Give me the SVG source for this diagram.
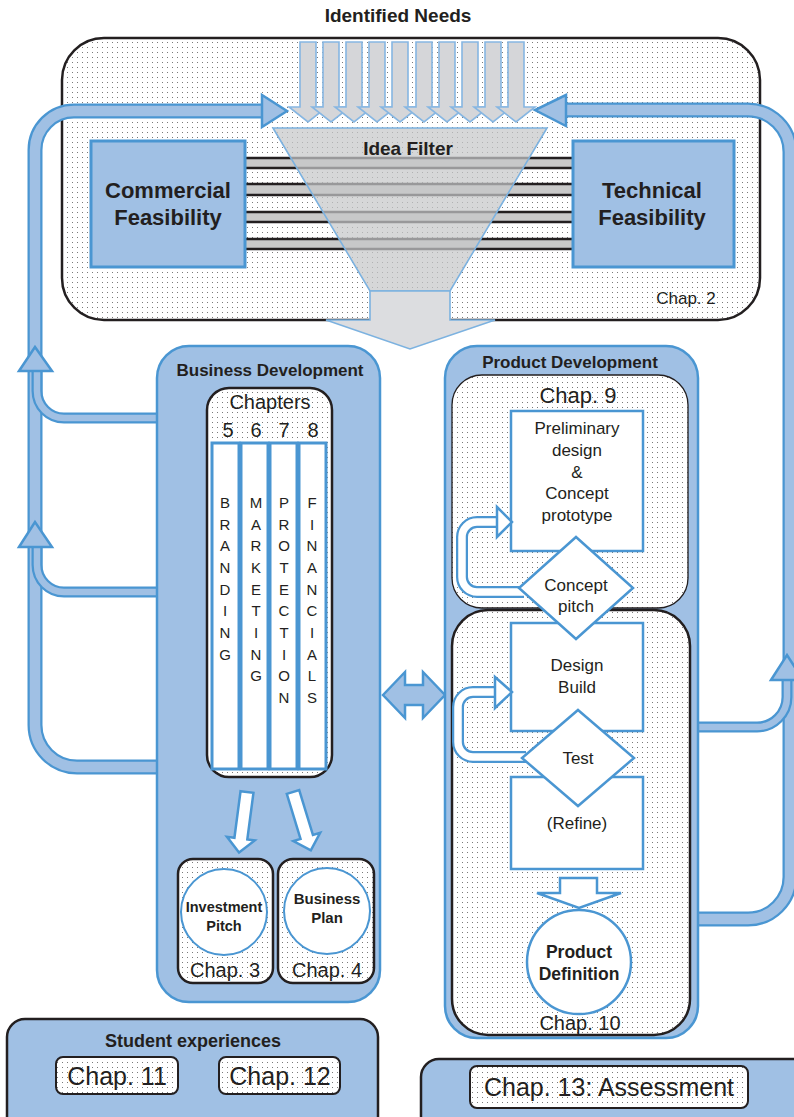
<svg xmlns="http://www.w3.org/2000/svg" xmlns:xlink="http://www.w3.org/1999/xlink" width="794" height="1117" viewBox="0 0 794 1117">
  <defs>
    <pattern id="dots" width="5" height="5" patternUnits="userSpaceOnUse">
      <rect width="5" height="5" fill="#fff"/>
      <rect x="2" y="2" width="1" height="1" fill="#7a7a7a"/>
    </pattern>
    <!-- one incoming need arrow, centred on x=0 -->
    <polygon id="needArrow" points="-8,42 8,42 8,107 19,107 0,122 -19,107 -8,107"/>
    <!-- feedback pipe centre-lines -->
    <path id="leftLoop" d="M 159 767 H 77 A 42 42 0 0 1 35 725 V 150 A 39 39 0 0 1 74 111 H 264"/>
    <path id="leftBranch1" d="M 159 418 H 64 A 27 27 0 0 1 37 391 V 369"/>
    <path id="leftBranch2" d="M 159 592 H 64 A 27 27 0 0 1 37 565 V 545"/>
    <path id="rightLoop" d="M 696 919 H 748 A 42 42 0 0 0 790 877 V 152 A 42 42 0 0 0 748 110 H 564"/>
    <path id="rightBranch" d="M 696 727 H 757 A 30 30 0 0 0 787 697 V 678"/>
    <path id="loop9" d="M 524 592 H 477 A 15 15 0 0 1 462 577 V 537 A 15 15 0 0 1 477 522 H 498"/>
    <path id="loop10" d="M 526 757 H 473 A 15 15 0 0 1 458 742 V 707 A 15 15 0 0 1 473 692 H 496"/>
  </defs>
  <style>
    .t { font-family: "Liberation Sans", Arial, Helvetica, sans-serif; fill: #231f20; text-anchor: middle; }
    .b { font-weight: bold; }
    .panel { fill: #a0c0e4; stroke: #4a96d2; stroke-width: 2.5; }
    .dark { fill: #a0c0e4; stroke: #231f20; stroke-width: 2.5; }
    .dotted { fill: url(#dots); stroke: #231f20; stroke-width: 2.5; }
    .wbox { fill: #fff; stroke: #4a96d2; stroke-width: 2.5; }
    .feas { fill: #a0c0e4; stroke: #4a96d2; stroke-width: 3; }
    .pipeO { fill: none; stroke: #4a96d2; stroke-width: 15; }
    .pipeI { fill: none; stroke: #a0c0e4; stroke-width: 10.5; }
    .brO { fill: none; stroke: #4a96d2; stroke-width: 11; }
    .brI { fill: none; stroke: #a0c0e4; stroke-width: 6.5; }
    .wO { fill: none; stroke: #4a96d2; stroke-width: 12; }
    .wI { fill: none; stroke: #fff; stroke-width: 7.5; }
    .head { fill: #a0c0e4; stroke: #4a96d2; stroke-width: 2.5; stroke-linejoin: miter; }
    .whead { fill: #fff; stroke: #4a96d2; stroke-width: 2.5; }
    .need { fill: #d5d6d9; stroke: #86b6e2; stroke-width: 1.6; }
    .band { fill: #c9c9c9; }
    .bline { stroke: #231f20; stroke-width: 2.5; }
    .col { fill: #fff; stroke: #4a96d2; stroke-width: 3; }
  </style>

  <!-- Idea generation: needs, filter and feasibility checks -->
  <g id="idea-stage">
    <text class="t b" x="398" y="22" font-size="19">Identified Needs</text>
    <rect class="dotted" x="62" y="38" width="698" height="282" rx="42"/>
    <g id="feasibility-bands">
      <rect class="band" x="245" y="158" width="328" height="10"/>
      <rect class="band" x="245" y="184" width="328" height="11"/>
      <rect class="band" x="245" y="212" width="328" height="10"/>
      <rect class="band" x="245" y="239" width="328" height="10"/>
      <path class="bline" d="M245 158H573M245 168H573M245 184H573M245 195H573M245 212H573M245 222H573M245 239H573M245 249H573"/>
    </g>
    <g id="idea-filter">
      <polygon points="273,128 547,128 450,291 370,291" fill="#c6c7c9" fill-opacity="0.72" stroke="#7cb2e0" stroke-width="1.6"/>
      <text class="t b" x="408" y="155" font-size="19">Idea Filter</text>
      <polygon points="370,291 450,291 450,320 495,320 410,349 326,320 370,320" fill="#dcdde0" stroke="#7cb2e0" stroke-width="1.6"/>
    </g>
    <g id="needs">
      <use xlink:href="#needArrow" class="need" x="308"/>
      <use xlink:href="#needArrow" class="need" x="331"/>
      <use xlink:href="#needArrow" class="need" x="354"/>
      <use xlink:href="#needArrow" class="need" x="377"/>
      <use xlink:href="#needArrow" class="need" x="400"/>
      <use xlink:href="#needArrow" class="need" x="424"/>
      <use xlink:href="#needArrow" class="need" x="447"/>
      <use xlink:href="#needArrow" class="need" x="470"/>
      <use xlink:href="#needArrow" class="need" x="493"/>
      <use xlink:href="#needArrow" class="need" x="516"/>
    </g>
    <g id="commercial">
      <rect class="feas" x="91" y="141" width="154" height="126"/>
      <text class="t b" x="168" y="198" font-size="22">Commercial</text>
      <text class="t b" x="168" y="225" font-size="22">Feasibility</text>
    </g>
    <g id="technical">
      <rect class="feas" x="573" y="141" width="161" height="126"/>
      <text class="t b" x="652" y="198" font-size="22">Technical</text>
      <text class="t b" x="652" y="225" font-size="22">Feasibility</text>
    </g>
    <text class="t" x="686" y="304" font-size="17" fill="#333">Chap. 2</text>
  </g>

  <!-- Feedback pipes back into the idea filter -->
  <g id="connectors">
    <use xlink:href="#leftLoop" class="pipeO"/>
    <use xlink:href="#leftLoop" class="pipeI"/>
    <polygon class="head" points="262,95 287,111 262,127"/>
    <use xlink:href="#leftBranch1" class="brO"/>
    <use xlink:href="#leftBranch1" class="brI"/>
    <polygon class="head" points="19,371 35,347 52,371"/>
    <use xlink:href="#leftBranch2" class="brO"/>
    <use xlink:href="#leftBranch2" class="brI"/>
    <polygon class="head" points="19,547 35,522 52,547"/>

    <use xlink:href="#rightLoop" class="pipeO"/>
    <use xlink:href="#rightLoop" class="pipeI"/>
    <polygon class="head" points="566,95 535,110 566,126"/>
    <use xlink:href="#rightBranch" class="brO"/>
    <use xlink:href="#rightBranch" class="brI"/>
    <polygon class="head" points="771,680 787,655 803,680"/>

    <polygon class="head" points="383,695 405,672 405,685 423,685 423,672 445,695 423,718 423,705 405,705 405,718"/>
  </g>

  <!-- Business development -->
  <g id="business-development">
    <rect class="panel" x="157" y="346" width="223" height="656" rx="32"/>
    <text class="t b" x="270" y="376" font-size="17">Business Development</text>
    <g id="chapters">
      <rect class="dotted" x="207" y="388" width="125" height="389" rx="22"/>
      <text class="t" x="270" y="409" font-size="20">Chapters</text>
      <text class="t" x="228" y="437" font-size="20">5</text>
      <text class="t" x="256" y="437" font-size="20">6</text>
      <text class="t" x="284" y="437" font-size="20">7</text>
      <text class="t" x="313" y="437" font-size="20">8</text>
      <rect class="col" x="212" y="443" width="27" height="326"/>
      <rect class="col" x="241" y="443" width="27" height="326"/>
      <rect class="col" x="270" y="443" width="27" height="326"/>
      <rect class="col" x="299" y="443" width="27" height="326"/>
      <g class="t" font-size="15">
        <text x="225" y="508">B</text><text x="225" y="530">R</text><text x="225" y="551">A</text><text x="225" y="573">N</text><text x="225" y="595">D</text><text x="225" y="616">I</text><text x="225" y="638">N</text><text x="225" y="660">G</text>
        <text x="256" y="508">M</text><text x="256" y="530">A</text><text x="256" y="551">R</text><text x="256" y="573">K</text><text x="256" y="595">E</text><text x="256" y="616">T</text><text x="256" y="638">I</text><text x="256" y="660">N</text><text x="256" y="681">G</text>
        <text x="284" y="508">P</text><text x="284" y="530">R</text><text x="284" y="551">O</text><text x="284" y="573">T</text><text x="284" y="595">E</text><text x="284" y="616">C</text><text x="284" y="638">T</text><text x="284" y="660">I</text><text x="284" y="681">O</text><text x="284" y="703">N</text>
        <text x="312" y="508">F</text><text x="312" y="530">I</text><text x="312" y="551">N</text><text x="312" y="573">A</text><text x="312" y="595">N</text><text x="312" y="616">C</text><text x="312" y="638">I</text><text x="312" y="660">A</text><text x="312" y="681">L</text><text x="312" y="703">S</text>
      </g>
    </g>
    <polygon class="whead" transform="translate(247,792) rotate(7.5)" points="-6.5,0 6.5,0 6.5,47 14,47 0,61 -14,47 -6.5,47"/>
    <polygon class="whead" transform="translate(293,792) rotate(-17)" points="-6.5,0 6.5,0 6.5,47 14,47 0,61 -14,47 -6.5,47"/>
    <g id="investment-pitch">
      <rect class="dotted" x="178" y="859" width="95" height="124" rx="15"/>
      <circle cx="224" cy="912" r="43" fill="#fff" stroke="#4a96d2" stroke-width="2"/>
      <text class="t b" x="224" y="912" font-size="14.5">Investment</text>
      <text class="t b" x="224" y="931" font-size="14.5">Pitch</text>
      <text class="t" x="225" y="977" font-size="20">Chap. 3</text>
    </g>
    <g id="business-plan">
      <rect class="dotted" x="278" y="859" width="96" height="124" rx="15"/>
      <circle cx="327" cy="911" r="43" fill="#fff" stroke="#4a96d2" stroke-width="2"/>
      <text class="t b" x="327" y="904" font-size="15">Business</text>
      <text class="t b" x="327" y="923" font-size="15">Plan</text>
      <text class="t" x="327" y="977" font-size="20">Chap. 4</text>
    </g>
  </g>

  <!-- Product development -->
  <g id="product-development">
    <rect class="panel" x="445" y="346" width="253" height="692" rx="32"/>
    <text class="t b" x="570" y="368" font-size="17">Product Development</text>
    <rect x="452" y="375" width="236" height="233" rx="30" fill="url(#dots)" stroke="#231f20" stroke-width="1.3"/>
    <text class="t" x="578" y="403" font-size="22">Chap. 9</text>
    <rect class="dotted" x="452" y="610" width="238" height="425" rx="36"/>
    <text class="t" x="580" y="1030" font-size="20">Chap. 10</text>

    <g id="concept-loop">
      <rect class="wbox" x="511" y="411" width="132" height="140"/>
      <g class="t" font-size="17">
        <text x="577" y="434">Preliminary</text>
        <text x="577" y="456">design</text>
        <text x="577" y="478">&amp;</text>
        <text x="577" y="499">Concept</text>
        <text x="577" y="521">prototype</text>
      </g>
      <use xlink:href="#loop9" class="wO"/>
      <use xlink:href="#loop9" class="wI"/>
      <polygon class="whead" points="497,507 512,522 497,537"/>
    </g>

    <g id="build-loop">
      <rect class="wbox" x="511" y="623" width="132" height="108"/>
      <text class="t" x="577" y="671" font-size="17">Design</text>
      <text class="t" x="577" y="693" font-size="17">Build</text>
      <rect class="wbox" x="511" y="777" width="132" height="92"/>
      <text class="t" x="577" y="829" font-size="17">(Refine)</text>
      <use xlink:href="#loop10" class="wO"/>
      <use xlink:href="#loop10" class="wI"/>
      <polygon class="whead" points="495,677 512,692 495,708"/>
      <polygon class="wbox" points="578,710 634,758 578,806 522,758"/>
      <text class="t" x="578" y="764" font-size="17">Test</text>
    </g>

    <g id="concept-pitch">
      <polygon class="wbox" points="576,537 633,588 576,639 519,588"/>
      <text class="t" x="576" y="591" font-size="17">Concept</text>
      <text class="t" x="576" y="612" font-size="17">pitch</text>
    </g>

    <polygon class="whead" points="560,878 597,878 597,893 621,893 579,908 537,893 560,893"/>
    <g id="product-definition">
      <circle cx="579" cy="962" r="52" fill="#fff" stroke="#4a96d2" stroke-width="2.5"/>
      <text class="t b" x="579" y="958" font-size="17.5">Product</text>
      <text class="t b" x="579" y="980" font-size="17.5">Definition</text>
    </g>
  </g>

  <!-- Student experiences -->
  <g id="student-experiences">
    <rect class="dark" x="7" y="1019" width="371" height="130" rx="18"/>
    <text class="t b" x="193" y="1047" font-size="18">Student experiences</text>
    <rect x="56" y="1057" width="122" height="37" rx="7" fill="url(#dots)" stroke="#231f20" stroke-width="2"/>
    <text class="t" x="117" y="1085" font-size="25">Chap. 11</text>
    <rect x="219" y="1057" width="121" height="37" rx="7" fill="url(#dots)" stroke="#231f20" stroke-width="2"/>
    <text class="t" x="280" y="1085" font-size="25">Chap. 12</text>
  </g>

  <!-- Assessment -->
  <g id="assessment">
    <rect class="dark" x="421" y="1059" width="390" height="90" rx="18"/>
    <rect x="470" y="1066" width="278" height="42" rx="7" fill="url(#dots)" stroke="#231f20" stroke-width="2"/>
    <text class="t" x="609" y="1096" font-size="25">Chap. 13: Assessment</text>
  </g>
</svg>
